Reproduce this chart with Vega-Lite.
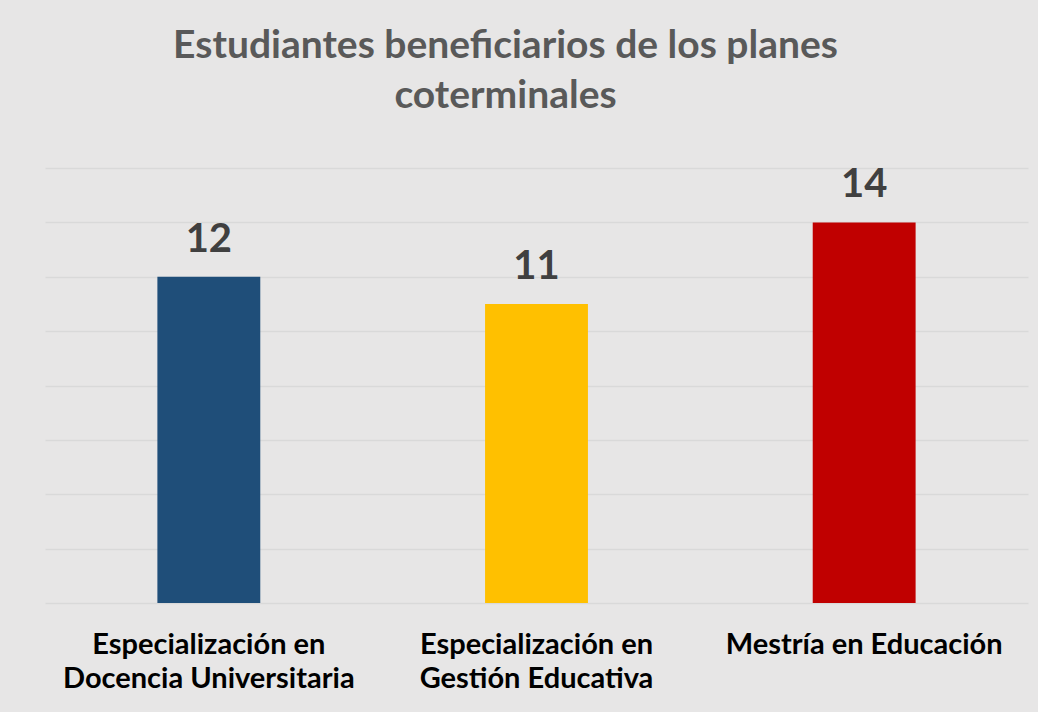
{
  "$schema": "https://vega.github.io/schema/vega-lite/v6.json",
  "autosize": {"type": "none"},
  "width": 983,
  "height": 435,
  "padding": {"left": 45, "top": 168, "right": 10, "bottom": 109},
  "background": "#e7e6e6",
  "config": {"view": {"stroke": null}, "font": "Lato"},
  "title": {
    "text": ["Estudiantes beneficiarios de los planes", "coterminales"],
    "font": "Lato",
    "fontSize": 39,
    "fontWeight": "bold",
    "color": "#595959",
    "anchor": "middle",
    "dx": -31,
    "offset": 49,
    "lineHeight": 50
  },
  "data": {
    "values": [
      {"programa": "Especialización en Docencia Universitaria", "estudiantes": 12},
      {"programa": "Especialización en Gestión Educativa", "estudiantes": 11},
      {"programa": "Mestría en Educación", "estudiantes": 14}
    ]
  },
  "encoding": {
    "x": {
      "field": "programa",
      "type": "nominal",
      "sort": null,
      "scale": {"paddingInner": 0.686, "paddingOuter": 0.343},
      "axis": {
        "title": null,
        "domain": false,
        "ticks": false,
        "labelAngle": 0,
        "labelFont": "Lato",
        "labelFontSize": 29,
        "labelFontWeight": "bold",
        "labelColor": "#000000",
        "labelBaseline": "top",
        "labelPadding": 27,
        "labelLineHeight": 34,
        "labelLimit": 400,
        "labelExpr": "datum.value == 'Especialización en Docencia Universitaria' ? ['Especialización en', 'Docencia Universitaria'] : datum.value == 'Especialización en Gestión Educativa' ? ['Especialización en', 'Gestión Educativa'] : datum.value"
      }
    },
    "y": {
      "field": "estudiantes",
      "type": "quantitative",
      "scale": {"domain": [0, 16], "nice": false},
      "axis": {
        "title": null,
        "labels": false,
        "ticks": false,
        "domain": false,
        "grid": true,
        "gridColor": "#d9d9d9",
        "gridWidth": 1.5,
        "values": [0, 2, 4, 6, 8, 10, 12, 14, 16]
      }
    }
  },
  "layer": [
    {
      "mark": {"type": "bar"},
      "encoding": {
        "color": {
          "field": "programa",
          "type": "nominal",
          "sort": null,
          "legend": null,
          "scale": {
            "domain": ["Especialización en Docencia Universitaria", "Especialización en Gestión Educativa", "Mestría en Educación"],
            "range": ["#1f4e79", "#ffc000", "#c00000"]
          }
        }
      }
    },
    {
      "mark": {"type": "text", "font": "Lato", "fontSize": 40, "fontWeight": "bold", "color": "#404040", "baseline": "alphabetic", "dy": -25},
      "encoding": {"text": {"field": "estudiantes", "type": "quantitative"}}
    }
  ]
}
